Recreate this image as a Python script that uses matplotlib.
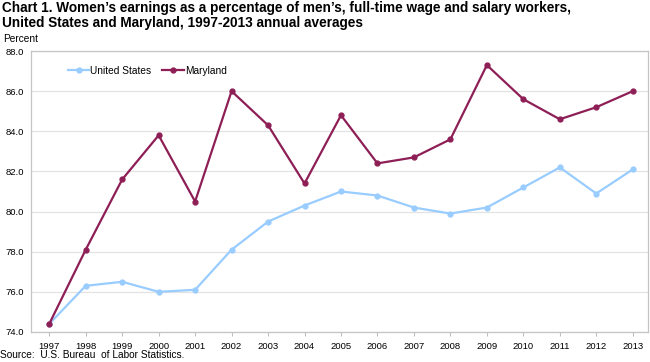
import matplotlib
matplotlib.use("Agg")
import matplotlib.pyplot as plt

plt.rcParams['font.family'] = ['Liberation Sans', 'DejaVu Sans']

years = list(range(1997, 2014))
us = [74.4, 76.3, 76.5, 76.0, 76.1, 78.1, 79.5, 80.3, 81.0, 80.8, 80.2, 79.9, 80.2, 81.2, 82.2, 80.9, 82.1]
md = [74.4, 78.1, 81.6, 83.8, 80.5, 86.0, 84.3, 81.4, 84.8, 82.4, 82.7, 83.6, 87.3, 85.6, 84.6, 85.2, 86.0]
yticks = [74, 76, 78, 80, 82, 84, 86, 88]

fig = plt.figure(figsize=(6.5, 3.62), dpi=100)
ax = fig.add_axes([0.0477, 0.083, 0.9493, 0.776])

ax.plot(years, us, color='#99ccff', lw=1.6, marker='o', ms=3.5, label='United States', zorder=3)
ax.plot(years, md, color='#8e1f56', lw=1.6, marker='o', ms=3.5, label='Maryland', zorder=4)

ax.set_xlim(1996.5, 2013.42)
ax.set_ylim(74, 88)
ax.set_xticks(years)
ax.set_xticklabels([str(y) for y in years], fontsize=6.8)
ax.set_yticks(yticks)
ax.set_yticklabels([f"{v:.1f}" for v in yticks], fontsize=6.8)
ax.tick_params(axis='y', length=0, pad=5)
ax.tick_params(axis='x', length=3, color='#bfbfbf', pad=4)
ax.grid(axis='y', color='#e3e3e3', lw=0.9)
ax.set_axisbelow(True)
for s in ax.spines.values():
    s.set_color('#c4c4c4')
    s.set_linewidth(0.9)

ax.legend(loc='upper left', bbox_to_anchor=(0.045, 0.98), ncol=2, frameon=False,
          fontsize=7.3, handlelength=2.1, handletextpad=0.1, columnspacing=1.1)

fig.text(0.003, 0.997, "Chart 1. Women\u2019s earnings as a percentage of men\u2019s, full-time wage and salary workers,\nUnited States and Maryland, 1997-2013 annual averages",
         fontsize=9.8, fontweight='bold', va='top', ha='left', linespacing=1.12)
fig.text(0.005, 0.878, "Percent", fontsize=7.3, va='bottom', ha='left')
fig.text(0.0, 0.005, "Source:  U.S. Bureau  of Labor Statistics.", fontsize=7.3, va='bottom', ha='left')

fig.savefig("out.png", dpi=100)
